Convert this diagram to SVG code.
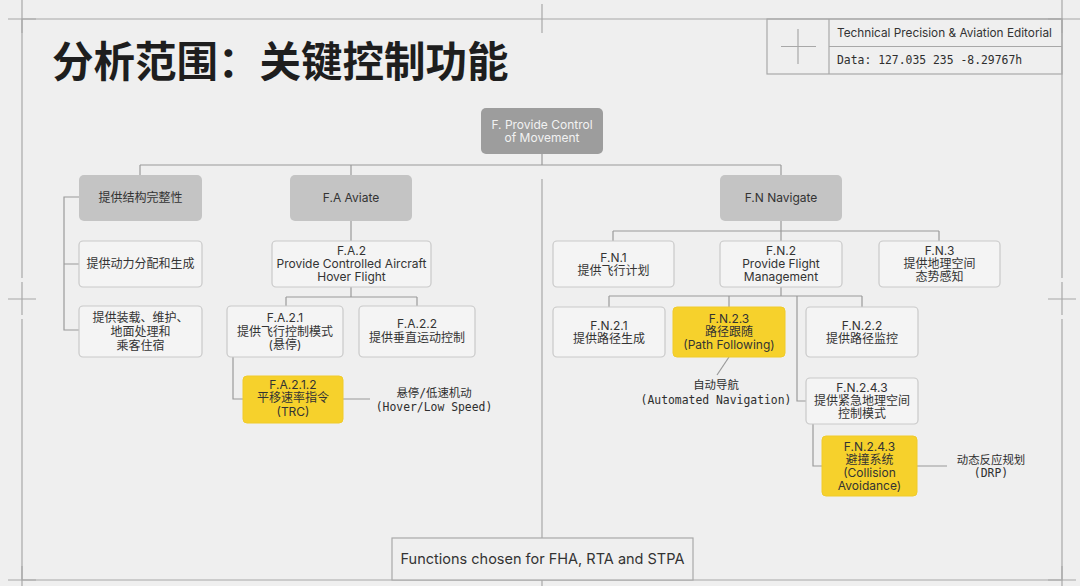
<svg xmlns="http://www.w3.org/2000/svg" width="1080" height="586" viewBox="0 0 1080 586">
<defs>
<style>
.bg{fill:#efefef}
.frame{stroke:#a8a8a8;stroke-width:1.2;fill:none}
.con{stroke:#9a9a9a;stroke-width:1.2;fill:none}
.root{fill:#9d9d9d}
.gray{fill:#c4c4c4}
.white{fill:#f4f4f4;stroke:#c9c9c9;stroke-width:1.2}
.yellow{fill:#f6d12c;stroke:#f0cb2a;stroke-width:1}
text{font-family:Inter,"Liberation Sans","Noto Sans CJK SC",sans-serif;font-size:12px;fill:#333;text-anchor:middle}
.rt{fill:#f2f2f2}
.mono{font-family:"DejaVu Sans Mono","Liberation Mono","Noto Sans CJK SC",monospace;font-size:11.4px;fill:#2e2e2e}
.title{font-family:"Noto Sans CJK SC",sans-serif;font-weight:700;font-size:41.5px;fill:#1e1e1e;text-anchor:start}
.info{font-size:11.8px;text-anchor:start;fill:#333}
</style>
</defs>
<rect class="bg" x="0" y="0" width="1080" height="586"/>

<g id="frame">
<path class="frame" d="M22 19 H1062 V580 H22 Z"/>
<path class="frame" d="M542 4 V33 M8 19 H36 M22 0 V33 M1048 19 H1080 M1062 0 V33 M8 299 H36 M1048 299 H1076 M8 580 H36 M22 566 V586 M1048 580 H1076 M1062 566 V586 M542 179 V538 M542 580 V586"/>
<rect x="18" y="278" width="8" height="4" class="bg"/>
<rect x="18" y="315" width="8" height="4" class="bg"/>
<rect x="1058" y="278" width="8" height="4" class="bg"/>
<rect x="1058" y="315" width="8" height="4" class="bg"/>
</g>

<g id="title">
<text class="title" x="52" y="77">分析范围：关键控制功能</text>
</g>

<g id="infobox">
<rect class="frame" x="767" y="19" width="295" height="55" fill="none"/>
<path class="frame" d="M829 19 V74 M829 46.5 H1062 M781 46.5 H816 M798 29 V64"/>
<text class="info" x="837" y="37">Technical Precision &amp; Aviation Editorial</text>
<text class="mono" x="837" y="64" style="text-anchor:start">Data: 127.035 235 -8.29767h</text>
</g>

<g id="connectors">
<path class="con" d="M542 154 V165 M140 165 H781 M140 165 V175 M351 165 V175 M781 165 V175"/>
<path class="con" d="M79 197 H64 V330 H79 M64 264 H79"/>
<path class="con" d="M351 221 V241 M351 287 V297 M286 297 H417 M286 297 V306 M417 297 V306"/>
<path class="con" d="M233 357 V399 H243 M343 399 H370"/>
<path class="con" d="M781 221 V241 M613 231 H939 M613 231 V241 M939 231 V241"/>
<path class="con" d="M781 287 V296 M609 296 H862 M609 296 V307 M729 296 V307 M862 296 V307 M797 296 V401 H806"/>
<path class="con" d="M729 357 L717 375"/>
<path class="con" d="M813 424 V466 H822 M917 466 H947"/>
</g>

<g id="n-root">
<rect class="root" x="481" y="108" width="122" height="46" rx="5"/>
<text class="rt" x="542" y="129">F. Provide Control</text>
<text class="rt" x="542" y="142">of Movement</text>
</g>

<g id="n-struct">
<rect class="gray" x="79" y="175" width="123" height="46" rx="5"/>
<text x="140.5" y="202">提供结构完整性</text>
</g>
<g id="n-fa">
<rect class="gray" x="290" y="175" width="122" height="46" rx="5"/>
<text x="351" y="202">F.A Aviate</text>
</g>
<g id="n-fn">
<rect class="gray" x="720" y="175" width="122" height="46" rx="5"/>
<text x="781" y="202">F.N Navigate</text>
</g>

<g id="n-power">
<rect class="white" x="79" y="241" width="123" height="46" rx="4"/>
<text x="140.5" y="268">提供动力分配和生成</text>
</g>
<g id="n-load">
<rect class="white" x="79" y="306" width="123" height="51" rx="4"/>
<text x="140.5" y="322">提供装载、维护、</text>
<text x="140.5" y="336">地面处理和</text>
<text x="140.5" y="350">乘客住宿</text>
</g>

<g id="n-fa2">
<rect class="white" x="272" y="241" width="159" height="46" rx="4"/>
<text x="351.5" y="255">F.A.2</text>
<text x="351.5" y="268">Provide Controlled Aircraft</text>
<text x="351.5" y="281">Hover Flight</text>
</g>
<g id="n-fa21">
<rect class="white" x="227" y="306" width="116" height="51" rx="4"/>
<text x="285" y="322">F.A.2.1</text>
<text x="285" y="336">提供飞行控制模式</text>
<text x="285" y="349">(悬停)</text>
</g>
<g id="n-fa22">
<rect class="white" x="359" y="306" width="116" height="51" rx="4"/>
<text x="417" y="328">F.A.2.2</text>
<text x="417" y="342">提供垂直运动控制</text>
</g>
<g id="n-fa212">
<rect class="yellow" x="243" y="376" width="100" height="47" rx="4"/>
<text x="293" y="389">F.A.2.1.2</text>
<text x="293" y="402">平移速率指令</text>
<text x="293" y="416">(TRC)</text>
</g>
<g id="l-hover">
<text class="mono" x="434" y="397">悬停/低速机动</text>
<text class="mono" x="434" y="411">(Hover/Low Speed)</text>
</g>

<g id="n-fn1">
<rect class="white" x="553" y="241" width="121" height="46" rx="4"/>
<text x="613.5" y="261.5">F.N.1</text>
<text x="613.5" y="275">提供飞行计划</text>
</g>
<g id="n-fn2">
<rect class="white" x="720" y="241" width="122" height="46" rx="4"/>
<text x="781" y="255">F.N.2</text>
<text x="781" y="268">Provide Flight</text>
<text x="781" y="281">Management</text>
</g>
<g id="n-fn3">
<rect class="white" x="879" y="241" width="121" height="46" rx="4"/>
<text x="939.5" y="255">F.N.3</text>
<text x="939.5" y="268">提供地理空间</text>
<text x="939.5" y="281">态势感知</text>
</g>

<g id="n-fn21">
<rect class="white" x="553" y="307" width="112" height="50" rx="4"/>
<text x="609" y="329.5">F.N.2.1</text>
<text x="609" y="343">提供路径生成</text>
</g>
<g id="n-fn23">
<rect class="yellow" x="673" y="307" width="112" height="50" rx="4"/>
<text x="729" y="323">F.N.2.3</text>
<text x="729" y="336">路径跟随</text>
<text x="729" y="349">(Path Following)</text>
</g>
<g id="n-fn22">
<rect class="white" x="806" y="307" width="112" height="50" rx="4"/>
<text x="862" y="329.5">F.N.2.2</text>
<text x="862" y="343">提供路径监控</text>
</g>
<g id="l-auto">
<text class="mono" x="716" y="389">自动导航</text>
<text class="mono" x="716" y="404">(Automated Navigation)</text>
</g>

<g id="n-fn243a">
<rect class="white" x="806" y="378" width="112" height="46" rx="4"/>
<text x="862" y="392">F.N.2.4.3</text>
<text x="862" y="405">提供紧急地理空间</text>
<text x="862" y="418">控制模式</text>
</g>
<g id="n-fn243b">
<rect class="yellow" x="822" y="436" width="95" height="60" rx="4"/>
<text x="869.5" y="450.5">F.N.2.4.3</text>
<text x="869.5" y="463.5">避撞系统</text>
<text x="869.5" y="476.5">(Collision</text>
<text x="869.5" y="489.5">Avoidance)</text>
</g>
<g id="l-drp">
<text class="mono" x="991" y="464">动态反应规划</text>
<text class="mono" x="991" y="477">(DRP)</text>
</g>

<g id="n-footer">
<rect x="392" y="538" width="301" height="42" fill="#efefef" stroke="#a8a8a8" stroke-width="1.2"/>
<text x="542.5" y="564" style="font-size:14.5px">Functions chosen for FHA, RTA and STPA</text>
</g>
</svg>
